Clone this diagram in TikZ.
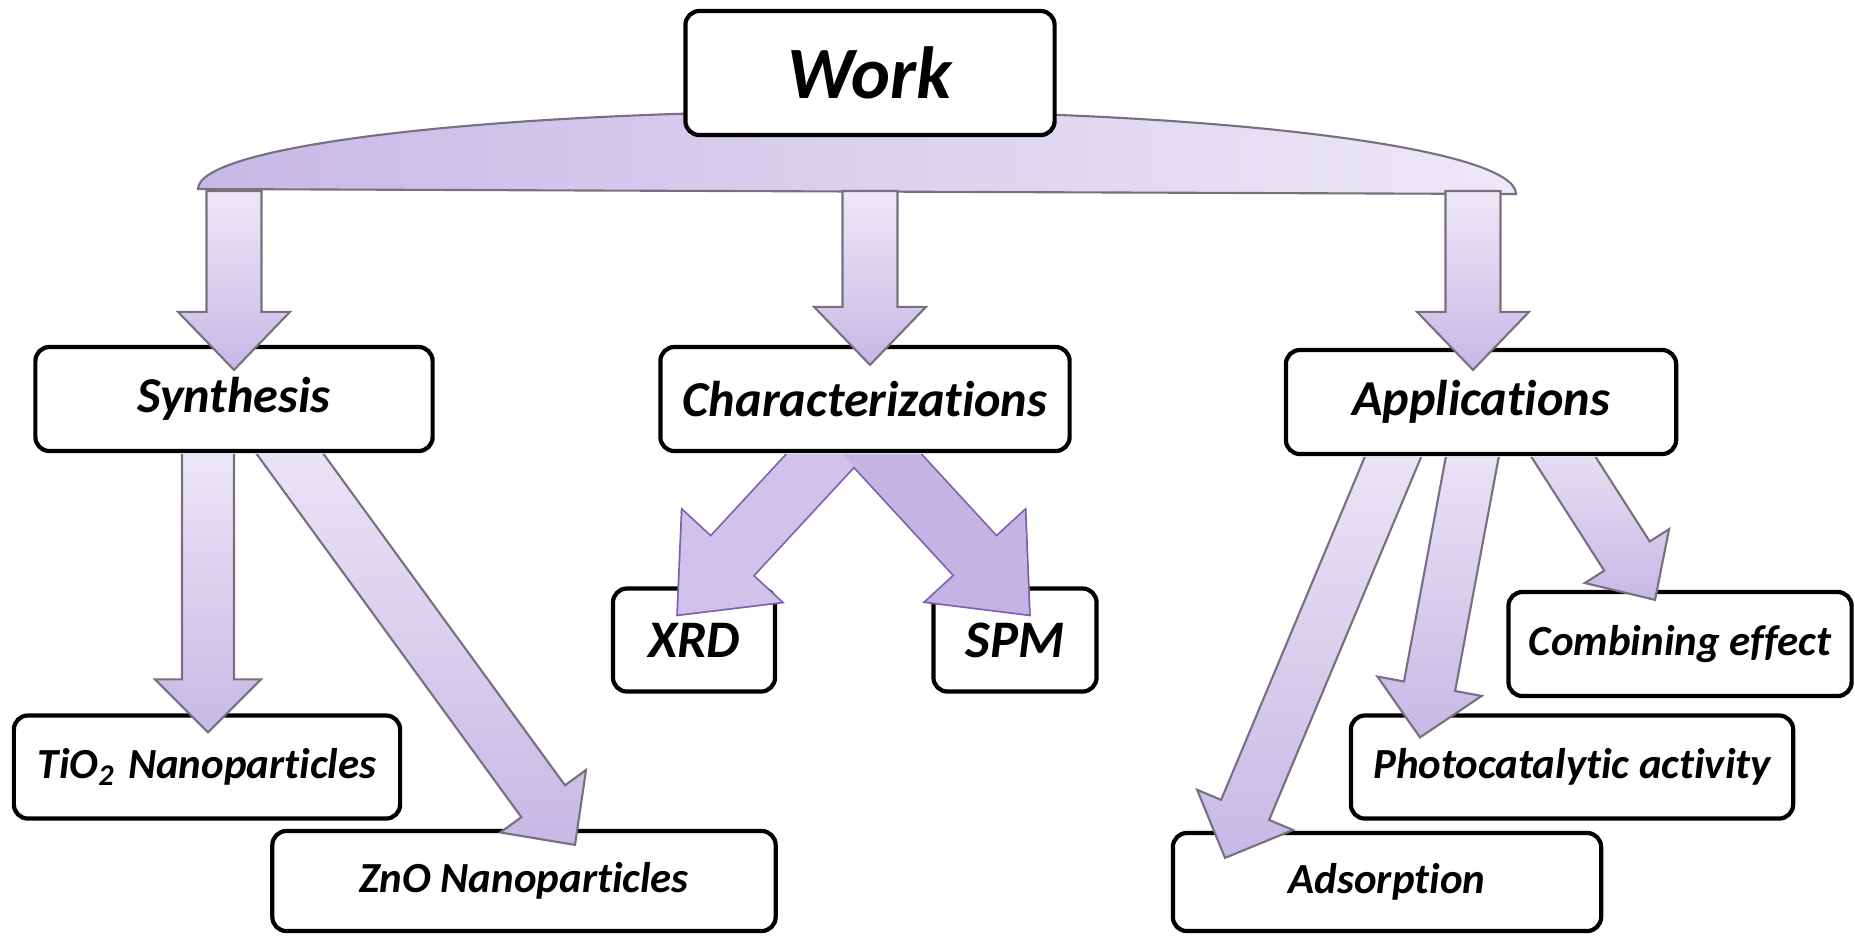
\documentclass[tikz,border=0pt]{standalone}
\usepackage{fontspec}
\setmainfont[Ligatures=NoCommon]{Carlito}
\usepackage{tikz}
\usetikzlibrary{calc}
\definecolor{colorlight}{RGB}{237,232,247}
\definecolor{colordark}{RGB}{199,184,230}
\definecolor{colorline}{RGB}{118,112,128}
\definecolor{colorchara}{RGB}{208,194,234}
\definecolor{colorcharb}{RGB}{197,179,228}
\definecolor{colorcharline}{RGB}{126,96,176}

% block arrow: [style]{start}{tip}{half shaft}{half head}{head length}
\newcommand{\blockarrow}[6][]{%
  \coordinate (ba-base) at ($(#3)!#6!(#2)$);
  \path[#1] ($(#2)!#4!90:(#3)$) -- ($(ba-base)!#4!90:(#3)$) -- ($(ba-base)!#5!90:(#3)$)
    -- (#3) -- ($(ba-base)!#5!-90:(#3)$) -- ($(ba-base)!#4!-90:(#3)$) -- ($(#2)!#4!-90:(#3)$) -- cycle;}

\begin{document}
\begin{tikzpicture}[
    x=0.01cm, y=-0.01cm,
    box/.style={draw=black, line width=1.2pt, rounded corners=0.14cm, fill=white, inner sep=0pt, align=center},
    big/.style={font={\fontsize{21}{25}\selectfont\bfseries\itshape}},
    mid/.style={font={\fontsize{14.3}{17}\selectfont\bfseries\itshape}},
    tag/.style={font={\fontsize{15}{18}\selectfont\bfseries\itshape}},
    small/.style={font={\fontsize{12.2}{15}\selectfont\bfseries\itshape}},
    block/.style={draw=colorline, line width=0.6pt, top color=colorlight, bottom color=colordark},
    charblock/.style={draw=colorcharline, line width=1pt},
    dome/.style={draw=colorline, line width=0.6pt, left color=colordark, right color=colorlight},
]
    \useasboundingbox (0,0) rectangle (1855,935);

    % Bar under the top box
    \coordinate (bar) at (857,191);
    \draw[dome] (198,189) .. controls (198,145) and (493,111) .. (857,111)
        .. controls (1221,111) and (1516,148) .. (1516,194) -- cycle;

    % Concepts
    \node[box, big, minimum width=3.69cm, minimum height=1.24cm] (work) at (870,73) {Work};

    \node[box, mid, minimum width=3.97cm, minimum height=1.04cm] (syn)  at (234,399)  {Synthesis};
    \node[box, mid, minimum width=4.09cm, minimum height=1.04cm] (char) at (865,399)  {Characterizations};
    \node[box, mid, minimum width=3.90cm, minimum height=1.04cm] (app)  at (1481,402) {Applications};

    \node[box, tag, minimum width=1.62cm, minimum height=1.03cm] (xrd)  at (694,640)  {XRD};
    \node[box, tag, minimum width=1.63cm, minimum height=1.03cm] (spm)  at (1015,640) {SPM};

    \node[box, small, minimum width=3.86cm, minimum height=1.03cm] (tio)   at (207,767)  {TiO\textsubscript{2}\hspace{0.3em}Nanoparticles};
    \node[box, small, minimum width=5.03cm, minimum height=1.00cm] (zno)   at (524,881)  {ZnO Nanoparticles};
    \node[box, small, minimum width=3.43cm, minimum height=1.04cm] (comb)  at (1680,644) {Combining effect};
    \node[box, small, minimum width=4.42cm, minimum height=1.03cm] (photo) at (1572,767) {Photocatalytic activity};
    \node[box, small, minimum width=4.28cm, minimum height=0.98cm] (ads)   at (1387,882) {Adsorption};

    % Concept relations
    \coordinate (syn-s)  at (syn.north |- bar);
    \coordinate (syn-t)  at ($(syn.north)+(0,25)$);
    \coordinate (char-s) at ($(char.north |- bar)+(5,0)$);
    \coordinate (char-t) at ($(char.north)+(5,20)$);
    \coordinate (app-s)  at ($(app.north |- bar)+(-8,0)$);
    \coordinate (app-t)  at ($(app.north)+(-8,22)$);
    \blockarrow[block]{syn-s}{syn-t}{0.275cm}{0.56cm}{0.58cm}
    \blockarrow[block]{char-s}{char-t}{0.275cm}{0.56cm}{0.58cm}
    \blockarrow[block]{app-s}{app-t}{0.275cm}{0.56cm}{0.58cm}

    \begin{scope}
        \clip ($(syn.south west)+(-40,1)$) rectangle ($(syn.south east)+(400,500)$);
        \coordinate (syn-o1) at ($(syn.south)+(-26,-10)$);
        \coordinate (syn-o2) at ($(syn.south)+(38,-24)$);
        \coordinate (tio-t)  at ($(tio.north)+(1,19)$);
        \coordinate (zno-t)  at ($(zno.north)+(51,16)$);
        \blockarrow[block]{syn-o1}{tio-t}{0.26cm}{0.53cm}{0.53cm}
        \blockarrow[block]{syn-o2}{zno-t}{0.27cm}{0.53cm}{0.54cm}
    \end{scope}

    \begin{scope}
        \clip ($(char.south west)+(-100,1)$) rectangle ($(char.south east)+(100,300)$);
        \coordinate (char-o) at ($(char.south)+(-11,-29)$);
        \coordinate (xrd-t)  at ($(xrd.north)+(-16,28)$);
        \coordinate (spm-t)  at ($(spm.north)+(14,28)$);
        \blockarrow[charblock]{char-o}{xrd-t}{0.285cm}{0.67cm}{0.79cm}
        \blockarrow[charblock]{char-o}{spm-t}{0.285cm}{0.67cm}{0.79cm}
        \blockarrow[fill=colorchara]{char-o}{xrd-t}{0.285cm}{0.67cm}{0.79cm}
        \blockarrow[fill=colorcharb]{char-o}{spm-t}{0.285cm}{0.67cm}{0.79cm}
    \end{scope}

    \begin{scope}
        \clip ($(app.south west)+(-300,1)$) rectangle ($(app.south east)+(300,500)$);
        \coordinate (app-o1)  at ($(app.south)+(-76,-28)$);
        \coordinate (app-o2)  at ($(app.south)+(-3,-30)$);
        \coordinate (app-o3)  at ($(app.south)+(66,-25)$);
        \coordinate (ads-t)   at ($(ads.north)+(-162,27)$);
        \coordinate (photo-t) at ($(photo.north)+(-152,24)$);
        \coordinate (comb-t)  at ($(comb.north)+(-25,10)$);
        \blockarrow[block]{app-o1}{ads-t}{0.26cm}{0.52cm}{0.52cm}
        \blockarrow[block]{app-o2}{photo-t}{0.26cm}{0.53cm}{0.52cm}
        \blockarrow[block]{app-o3}{comb-t}{0.27cm}{0.50cm}{0.52cm}
    \end{scope}

\end{tikzpicture}
\end{document}
